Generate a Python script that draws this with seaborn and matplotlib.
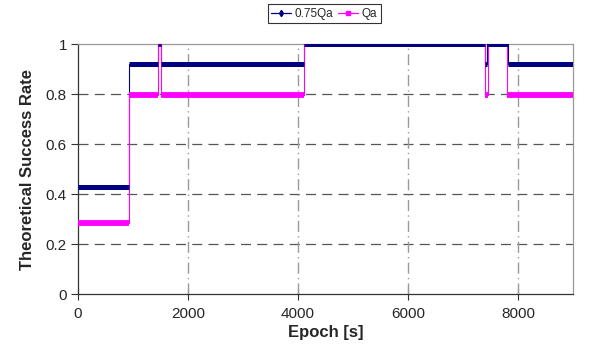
import numpy as np
import matplotlib
matplotlib.use("Agg")
import matplotlib.pyplot as plt
import seaborn as sns

# step series: each level holds from start to end (epoch, s)
qa75_start = [0, 930, 1460, 1500, 4100, 7400, 7440, 7820]
qa75_end = [930, 1460, 1500, 4100, 7400, 7440, 7820, 9000]
qa75_val = [0.43, 0.92, 1.0, 0.92, 1.0, 0.92, 1.0, 0.92]

qa_start = [0, 930, 1460, 1500, 4100, 7400, 7450, 7800]
qa_end = [930, 1460, 1500, 4100, 7400, 7450, 7800, 9000]
qa_val = [0.285, 0.795, 1.0, 0.795, 1.0, 0.795, 1.0, 0.795]

x_ticks = [0, 2000, 4000, 6000, 8000]
y_ticks = [0, 0.2, 0.4, 0.6, 0.8, 1.0]

NAVY = "#000080"
MAGENTA = "#ff00ff"


def step_points(starts, ends, vals):
    xs, ys = [], []
    for s, e, v in zip(starts, ends, vals):
        xs += [s, e]
        ys += [v, v]
    return np.array(xs), np.array(ys)


sns.set_theme(style="white")
plt.rcParams["font.family"] = ["Liberation Sans", "DejaVu Sans"]

fig = plt.figure(figsize=(6.07, 3.59), dpi=100)
ax = fig.add_axes([0.1285, 0.181, 0.8155, 0.696])

# (name, starts, ends, values, colour, thin-line zorder, thick width, thick zorder)
series = [
    ("0.75Qa", qa75_start, qa75_end, qa75_val, NAVY, 3, 3.6, 6),
    ("Qa", qa_start, qa_end, qa_val, MAGENTA, 4, 4.2, 5),
]

for name, st, en, vl, col, zthin, lw, zthick in series:
    xs, ys = step_points(st, en, vl)
    # thin connecting line including vertical transitions
    sns.lineplot(x=xs, y=ys, ax=ax, color=col, linewidth=0.8, sort=False,
                 estimator=None, zorder=zthin)
    # dense sampled look: thick horizontal levels
    ax.hlines(vl, st, en, colors=col, linewidth=lw, zorder=zthick, capstyle="butt")

# grid
for yv in y_ticks[1:-1]:
    ax.axhline(yv, color="#555555", lw=0.9, ls=(0, (8, 5)), zorder=1)
for xv in x_ticks[1:]:
    ax.axvline(xv, color="#9a9a9a", lw=1.0, ls=(0, (8, 3, 1, 3)), zorder=1)

ax.set_xlim(0, 9000)
ax.set_ylim(0, 1)
ax.set_xticks(x_ticks)
ax.set_yticks(y_ticks)
ax.set_yticklabels(["0", "0.2", "0.4", "0.6", "0.8", "1"])
ax.tick_params(axis="x", direction="inout", length=9, width=0.8, color="#333333",
               labelsize=11, pad=5, bottom=True)
ax.tick_params(axis="y", direction="out", length=5, width=0.8, color="#333333",
               labelsize=11, pad=3, left=True)

for side in ["left", "bottom"]:
    ax.spines[side].set_color("#333333")
    ax.spines[side].set_linewidth(0.9)
for side in ["top", "right"]:
    ax.spines[side].set_color("#999999")
    ax.spines[side].set_linewidth(0.9)

ax.set_xlabel("Epoch [s]", fontsize=12, fontweight="bold", labelpad=3)
ax.set_ylabel("Theoretical Success Rate", fontsize=12, fontweight="bold", labelpad=8)

handles = [
    plt.Line2D([], [], color=NAVY, lw=0.9, marker="d", markersize=3.2),
    plt.Line2D([], [], color=MAGENTA, lw=0.9, marker="s", markersize=3),
]
leg = fig.legend(handles, ["0.75Qa", "Qa"], loc="center", bbox_to_anchor=(0.534, 0.962),
                 ncol=2, fontsize=8.5, frameon=True, fancybox=False, handlelength=1.7,
                 handletextpad=0.3, columnspacing=0.4, borderpad=0.3, borderaxespad=0)
leg.get_frame().set_edgecolor("#000000")
leg.get_frame().set_linewidth(0.8)

fig.savefig("out.png", dpi=100)
